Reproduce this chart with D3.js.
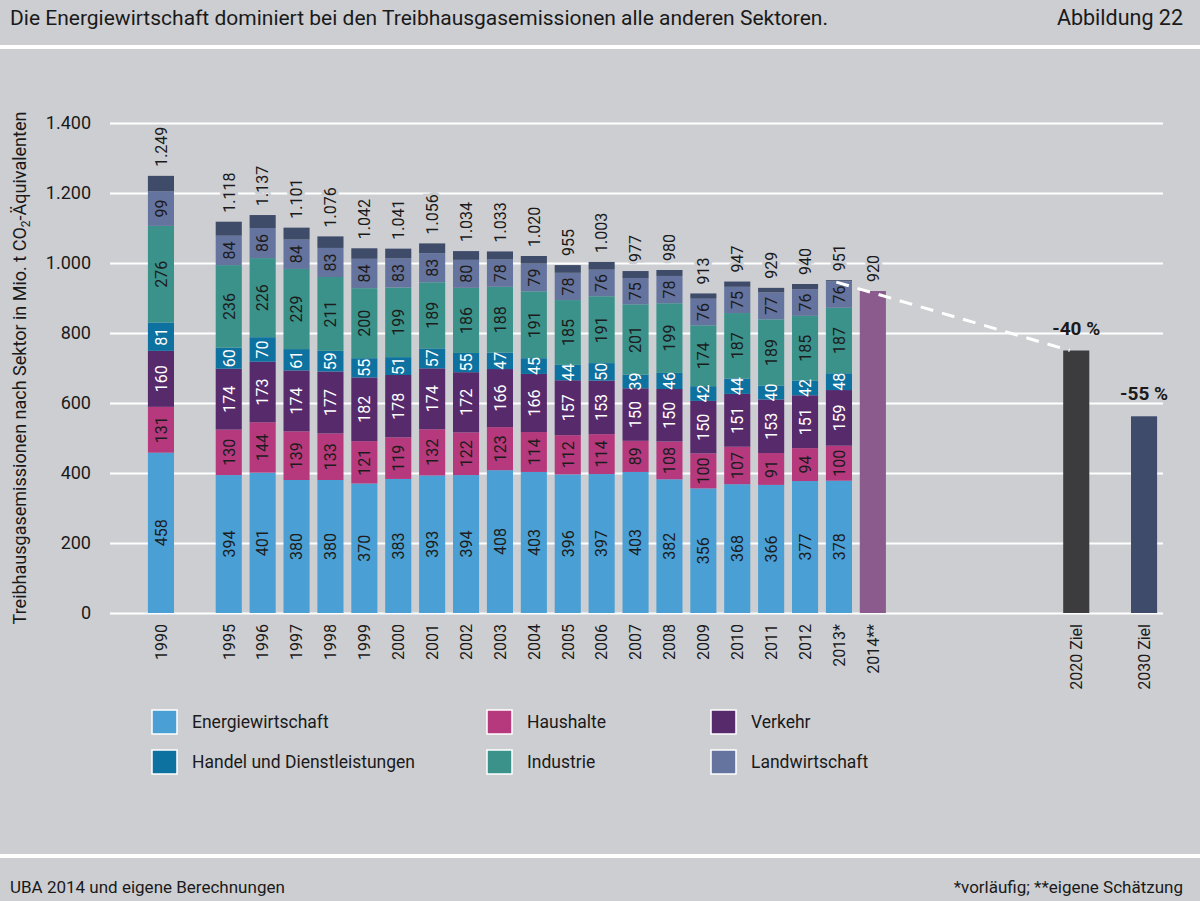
<!DOCTYPE html>
<html>
<head>
<meta charset="utf-8">
<script src="https://cdn.jsdelivr.net/npm/d3@7"></script>
<style>
  body { margin: 0; background: #cdced2; }
  svg { font-family: Roboto, "Noto Sans", sans-serif; display: block; }
</style>
</head>
<body>
<script>
// categories (empty slots keep the gaps of the original layout)
var years = ["1990", "1995", "1996", "1997", "1998", "1999", "2000", "2001", "2002", "2003",
             "2004", "2005", "2006", "2007", "2008", "2009", "2010", "2011", "2012", "2013*"];
var slots = ["1990", "g1", "1995", "1996", "1997", "1998", "1999", "2000", "2001", "2002", "2003",
             "2004", "2005", "2006", "2007", "2008", "2009", "2010", "2011", "2012", "2013*",
             "2014**", "g2", "g3", "g4", "g5", "g6", "2020 Ziel", "g7", "2030 Ziel"];

// sector values, Mio. t CO2-Äquivalente
var energiewirtschaft = [458, 394, 401, 380, 380, 370, 383, 393, 394, 408, 403, 396, 397, 403, 382, 356, 368, 366, 377, 378];
var haushalte         = [131, 130, 144, 139, 133, 121, 119, 132, 122, 123, 114, 112, 114,  89, 108, 100, 107,  91,  94, 100];
var verkehr           = [160, 174, 173, 174, 177, 182, 178, 174, 172, 166, 166, 157, 153, 150, 150, 150, 151, 153, 151, 159];
var handel            = [ 81,  60,  70,  61,  59,  55,  51,  57,  55,  47,  45,  44,  50,  39,  46,  42,  44,  40,  42,  48];
var industrie         = [276, 236, 226, 229, 211, 200, 199, 189, 186, 188, 191, 185, 191, 201, 199, 174, 187, 189, 185, 187];
var landwirtschaft    = [ 99,  84,  86,  84,  83,  84,  83,  83,  80,  78,  79,  78,  76,  75,  78,  76,  75,  77,  76,  76];
var sonstige          = [ 44,  40,  37,  34,  33,  30,  28,  28,  25,  23,  22,  22,  22,  20,  17,  15,  15,  13,  15,   3];
// total labels as printed
var totals = [1249, 1118, 1137, 1101, 1076, 1042, 1041, 1056, 1034, 1033, 1020, 955, 1003, 977, 980, 913, 947, 929, 940, 951];

// single bars
var singleCats = ["2014**", "2020 Ziel", "2030 Ziel"];
var singleValues = [920, 750, 562];
var singleLabels = ["920", "-40 %", "-55 %"];

var yTicks = [0, 200, 400, 600, 800, 1000, 1200, 1400];

var keys = ["energiewirtschaft", "haushalte", "verkehr", "handel", "industrie", "landwirtschaft", "sonstige"];
var colors = ["#4aa0d4", "#b5397c", "#572a6c", "#0e72a0", "#3a928a", "#65739f", "#3e4b69"];
var labelColors = ["#1c1c1c", "#1c1c1c", "#ffffff", "#ffffff", "#1c1c1c", "#1c1c1c", null];
var singleColors = ["#8b5b8d", "#3c3c3e", "#3e4b6b"];

var legendNames = ["Energiewirtschaft", "Haushalte", "Verkehr", "Handel und Dienstleistungen", "Industrie", "Landwirtschaft"];
var legendKeys = ["energiewirtschaft", "haushalte", "verkehr", "handel", "industrie", "landwirtschaft"];

var bg = "#cdced2";
var de = d3.formatLocale({decimal: ",", thousands: ".", grouping: [3], currency: ["", " €"]});
var fmt = de.format(",");

var W = 1200, H = 901;
var svg = d3.select("body").append("svg")
    .attr("width", W)
    .attr("height", H);

svg.append("rect").attr("width", W).attr("height", H).attr("fill", bg);

// header + footer
svg.append("text")
    .attr("x", 10).attr("y", 25)
    .attr("font-size", 21).attr("fill", "#1a1a1a")
    .text("Die Energiewirtschaft dominiert bei den Treibhausgasemissionen alle anderen Sektoren.");
svg.append("text")
    .attr("x", 1183).attr("y", 25)
    .attr("text-anchor", "end")
    .attr("font-size", 21.5).attr("fill", "#1a1a1a")
    .text("Abbildung 22");
svg.append("rect").attr("x", 0).attr("y", 45).attr("width", W).attr("height", 4).attr("fill", "#fff");
svg.append("rect").attr("x", 0).attr("y", 854).attr("width", W).attr("height", 4).attr("fill", "#fff");
svg.append("text")
    .attr("x", 10).attr("y", 893)
    .attr("font-size", 17).attr("fill", "#1a1a1a")
    .text("UBA 2014 und eigene Berechnungen");
svg.append("text")
    .attr("x", 1183).attr("y", 893)
    .attr("text-anchor", "end")
    .attr("font-size", 17).attr("fill", "#1a1a1a")
    .text("*vorläufig; **eigene Schätzung");

// scales
var x = d3.scaleBand()
    .domain(slots)
    .range([144, 1161])
    .paddingInner(0.23)
    .paddingOuter(0.115);

var y = d3.scaleLinear()
    .domain([0, 1400])
    .range([613, 123]);

var gridLeft = 110, gridRight = 1163;

// y axis with white gridlines
var yAxis = svg.append("g")
    .attr("transform", "translate(" + gridLeft + ",0)")
    .call(d3.axisLeft(y)
        .tickValues(yTicks)
        .tickSize(-(gridRight - gridLeft))
        .tickPadding(19)
        .tickFormat(fmt));
yAxis.select(".domain").remove();
yAxis.selectAll(".tick line").attr("stroke", "#fff").attr("stroke-width", 2);
yAxis.selectAll(".tick text")
    .attr("font-size", 18)
    .attr("fill", "#1a1a1a")
    .attr("font-family", "Roboto, sans-serif");

// y title
var yTitle = svg.append("text")
    .attr("transform", "translate(26,368) rotate(-90)")
    .attr("text-anchor", "middle")
    .attr("font-size", 18)
    .attr("fill", "#1a1a1a");
yTitle.append("tspan").text("Treibhausgasemissionen nach Sektor in Mio. t CO");
yTitle.append("tspan").attr("font-size", 12).attr("dy", 4).text("2");
yTitle.append("tspan").attr("dy", -4).text("-Äquivalenten");

// stacked data
var table = years.map(function(yr, i) {
  return {
    year: yr,
    energiewirtschaft: energiewirtschaft[i],
    haushalte: haushalte[i],
    verkehr: verkehr[i],
    handel: handel[i],
    industrie: industrie[i],
    landwirtschaft: landwirtschaft[i],
    sonstige: sonstige[i],
    total: totals[i]
  };
});
var series = d3.stack().keys(keys)(table);

var bw = x.bandwidth();

var layer = svg.append("g").selectAll("g")
  .data(series)
  .enter().append("g")
    .attr("fill", function(d, i) { return colors[i]; });

layer.selectAll("rect")
  .data(function(d) { return d; })
  .enter().append("rect")
    .attr("x", function(d) { return x(d.data.year); })
    .attr("y", function(d) { return y(d[1]); })
    .attr("width", bw)
    .attr("height", function(d) { return y(d[0]) - y(d[1]); });

// segment labels
series.forEach(function(s, si) {
  if (!labelColors[si]) return;
  svg.append("g").selectAll("text")
    .data(s)
    .enter().append("text")
      .attr("transform", function(d) {
        var cx = x(d.data.year) + bw / 2;
        var cy = (y(d[0]) + y(d[1])) / 2;
        return "translate(" + cx + "," + cy + ") rotate(-90)";
      })
      .attr("text-anchor", "middle")
      .attr("dy", "0.36em")
      .attr("font-size", 16)
      .attr("fill", labelColors[si])
      .text(function(d) { return d[1] - d[0]; });
});

// single bars
svg.append("g").selectAll("rect")
  .data(singleCats)
  .enter().append("rect")
    .attr("x", function(d) { return x(d); })
    .attr("y", function(d, i) { return y(singleValues[i]); })
    .attr("width", bw)
    .attr("height", function(d, i) { return y(0) - y(singleValues[i]); })
    .attr("fill", function(d, i) { return singleColors[i]; });

// dashed trend line 2013 -> 2020 target
svg.append("line")
    .attr("x1", x("2013*") + bw * 0.4)
    .attr("y1", y(totals[totals.length - 1]) + 2)
    .attr("x2", x("2020 Ziel") + bw * 0.25)
    .attr("y2", y(singleValues[1]))
    .attr("stroke", "#fff")
    .attr("stroke-width", 3)
    .attr("stroke-dasharray", "13,9");

// total labels (rotated, with background halo over gridlines)
svg.append("g").selectAll("text")
  .data(table)
  .enter().append("text")
    .attr("transform", function(d) {
      var top = y(d3.sum(keys, function(k) { return d[k]; }));
      return "translate(" + (x(d.year) + bw / 2) + "," + (top - 9) + ") rotate(-90)";
    })
    .attr("dy", "0.36em")
    .attr("font-size", 16)
    .attr("fill", "#1a1a1a")
    .attr("stroke", bg)
    .attr("stroke-width", 6)
    .attr("paint-order", "stroke")
    .text(function(d) { return fmt(d.total); });

svg.append("text")
    .attr("transform", "translate(" + (x("2014**") + bw / 2) + "," + (y(singleValues[0]) - 9) + ") rotate(-90)")
    .attr("dy", "0.36em")
    .attr("font-size", 16)
    .attr("fill", "#1a1a1a")
    .attr("stroke", bg)
    .attr("stroke-width", 6)
    .attr("paint-order", "stroke")
    .text(singleLabels[0]);

// target percentages
svg.append("g").selectAll("text")
  .data(singleCats.slice(1))
  .enter().append("text")
    .attr("x", function(d) { return x(d) + bw / 2; })
    .attr("y", function(d, i) { return y(singleValues[i + 1]) - 16; })
    .attr("text-anchor", "middle")
    .attr("font-size", 19)
    .attr("font-weight", "bold")
    .attr("fill", "#1a1a1a")
    .text(function(d, i) { return singleLabels[i + 1]; });

// x labels
svg.append("g").selectAll("text")
  .data(slots.filter(function(s) { return s.charAt(0) !== "g"; }))
  .enter().append("text")
    .attr("transform", function(d) {
      return "translate(" + (x(d) + bw / 2) + ",624) rotate(-90)";
    })
    .attr("text-anchor", "end")
    .attr("dy", "0.36em")
    .attr("font-size", 16)
    .attr("fill", "#1a1a1a")
    .text(function(d) { return d; });

// legend
var legCols = [152, 487, 711];
var legRows = [710, 750];
var legend = svg.append("g").selectAll("g")
  .data(legendNames)
  .enter().append("g")
    .attr("transform", function(d, i) {
      return "translate(" + legCols[i % 3] + "," + legRows[Math.floor(i / 3)] + ")";
    });
legend.append("rect")
    .attr("width", 25).attr("height", 24)
    .attr("fill", function(d, i) { return colors[keys.indexOf(legendKeys[i])]; })
    .attr("stroke", "#fff")
    .attr("stroke-width", 1.5);
legend.append("text")
    .attr("x", 40).attr("y", 18)
    .attr("font-size", 17.5)
    .attr("fill", "#1a1a1a")
    .text(function(d) { return d; });
</script>
</body>
</html>
